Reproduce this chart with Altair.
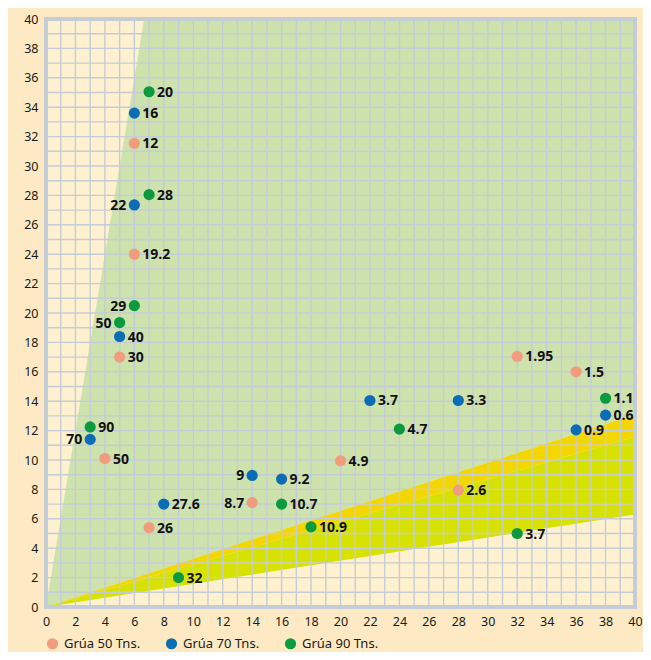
import altair as alt
import pandas as pd

# ---- data ----
series_names = ["Grúa 50 Tns.", "Grúa 70 Tns.", "Grúa 90 Tns."]
series_colors = ["#f29c7e", "#0b6db5", "#0b9a3e"]

x50 = [6, 6, 5, 4, 7, 14, 20, 28, 32, 36]
y50 = [31.55, 24.0, 17.0, 10.1, 5.4, 7.1, 9.95, 7.95, 17.05, 16.0]
l50 = ["12", "19.2", "30", "50", "26", "8.7", "4.9", "2.6", "1.95", "1.5"]

x70 = [6, 6, 5, 3, 8, 14, 16, 22, 28, 36, 38]
y70 = [33.6, 27.35, 18.4, 11.4, 7.0, 8.95, 8.7, 14.05, 14.05, 12.05, 13.05]
l70 = ["16", "22", "40", "70", "27.6", "9", "9.2", "3.7", "3.3", "0.9", "0.6"]

x90 = [7, 7, 6, 5, 3, 9, 16, 18, 24, 32, 38]
y90 = [35.05, 28.05, 20.5, 19.35, 12.25, 2.0, 7.0, 5.45, 12.1, 5.0, 14.2]
l90 = ["20", "28", "29", "50", "90", "32", "10.7", "10.9", "4.7", "3.7", "1.1"]

# labels placed to the left of their dot
left50 = ["8.7"]
left70 = ["22", "70", "9"]
left90 = ["29", "50"]

# zones
green_x = [0, 6.67, 40]
green_low = [0, 2.18, 13.1]
green_high = [0, 40, 40]
band_x = [0, 40]
yellow_low = [0, 11.6]
yellow_high = [0, 13.1]
lime_low = [0, 6.3]
lime_high = [0, 11.6]

grid_vals = list(range(1, 40))
tick_vals = [0, 2, 4, 6, 8, 10, 12, 14, 16, 18, 20, 22, 24, 26, 28, 30, 32, 34, 36, 38, 40]

# ---- tables ----
rows = []
for name, xs_, ys_, ls, lefts in [
    (series_names[0], x50, y50, l50, left50),
    (series_names[1], x70, y70, l70, left70),
    (series_names[2], x90, y90, l90, left90),
]:
    for xv, yv, lv in zip(xs_, ys_, ls):
        rows.append({"x": xv, "y": yv, "label": lv, "serie": name,
                     "side": "L" if lv in lefts else "R"})
pts = pd.DataFrame(rows)

green_df = pd.DataFrame({"x": green_x, "lo": green_low, "hi": green_high})
yellow_df = pd.DataFrame({"x": band_x, "lo": yellow_low, "hi": yellow_high})
lime_df = pd.DataFrame({"x": band_x, "lo": lime_low, "hi": lime_high})
grid_df = pd.DataFrame({"g": grid_vals})

xs = alt.Scale(domain=[0, 40], nice=False, zero=False)
ys = alt.Scale(domain=[0, 40], nice=False, zero=False)
common_axis = dict(values=tick_vals, title=None, grid=False, ticks=False, domain=False,
                   labelPadding=8, labelFontSize=12.5, labelColor="#1a1a1a",
                   labelFont="Noto Sans", labelOverlap=False, labelFlush=False)
xax = alt.Axis(**common_axis)
yax = alt.Axis(**common_axis)


def zone(df, color):
    return alt.Chart(df).mark_area(color=color, opacity=1, interpolate="linear").encode(
        x=alt.X("x:Q", scale=xs, axis=xax),
        y=alt.Y("lo:Q", scale=ys, axis=yax),
        y2="hi:Q",
    )


green = zone(green_df, "#cde2ad")
yellow = zone(yellow_df, "#f5d700")
lime = zone(lime_df, "#d8e200")

vgrid = alt.Chart(grid_df).mark_rule(color="#c4ccd5", strokeWidth=1.4).encode(
    x=alt.X("g:Q", scale=xs, axis=xax))
hgrid = alt.Chart(grid_df).mark_rule(color="#c4ccd5", strokeWidth=1.4).encode(
    y=alt.Y("g:Q", scale=ys, axis=yax))

border = alt.Chart(grid_df).mark_rect(fillOpacity=0, stroke="#c4ccd5", strokeWidth=3).encode(
    x=alt.XDatum(0, scale=xs, axis=xax), x2=alt.datum(40),
    y=alt.YDatum(0, scale=ys, axis=yax), y2=alt.datum(40),
)

dots = alt.Chart(pts).mark_circle(size=125, opacity=1).encode(
    x=alt.X("x:Q", scale=xs, axis=xax),
    y=alt.Y("y:Q", scale=ys, axis=yax),
    color=alt.Color("serie:N",
                    scale=alt.Scale(domain=series_names, range=series_colors),
                    legend=alt.Legend(orient="none", legendX=0, legendY=618,
                                      direction="horizontal", title=None,
                                      symbolType="circle", symbolSize=125,
                                      labelFontSize=13, labelFont="Noto Sans",
                                      labelColor="#1a1a1a", columnPadding=24,
                                      labelOffset=5, padding=0)),
)

txt_r = alt.Chart(pts).transform_filter(alt.datum.side == "R").mark_text(
    align="left", baseline="middle", dx=8, dy=1, fontSize=14, fontWeight="bold",
    font="Open Sans", color="#111111").encode(
    x=alt.X("x:Q", scale=xs, axis=xax), y=alt.Y("y:Q", scale=ys, axis=yax), text="label:N")
txt_l = alt.Chart(pts).transform_filter(alt.datum.side == "L").mark_text(
    align="right", baseline="middle", dx=-8, dy=1, fontSize=14, fontWeight="bold",
    font="Open Sans", color="#111111").encode(
    x=alt.X("x:Q", scale=xs, axis=xax), y=alt.Y("y:Q", scale=ys, axis=yax), text="label:N")

chart = alt.layer(green, yellow, lime, vgrid, hgrid, border, dots, txt_r, txt_l).properties(
    width=589, height=588,
    autosize=alt.AutoSizeParams(type="none"),
    padding={"left": 38, "top": 11, "right": 8, "bottom": 45},
).configure(background="#fdeac4").configure_view(fill="#fff1d0", stroke=None
).configure_axis(labelOverlap=False)

chart.save("out.html", embed_options={"renderer": "svg", "actions": False})
